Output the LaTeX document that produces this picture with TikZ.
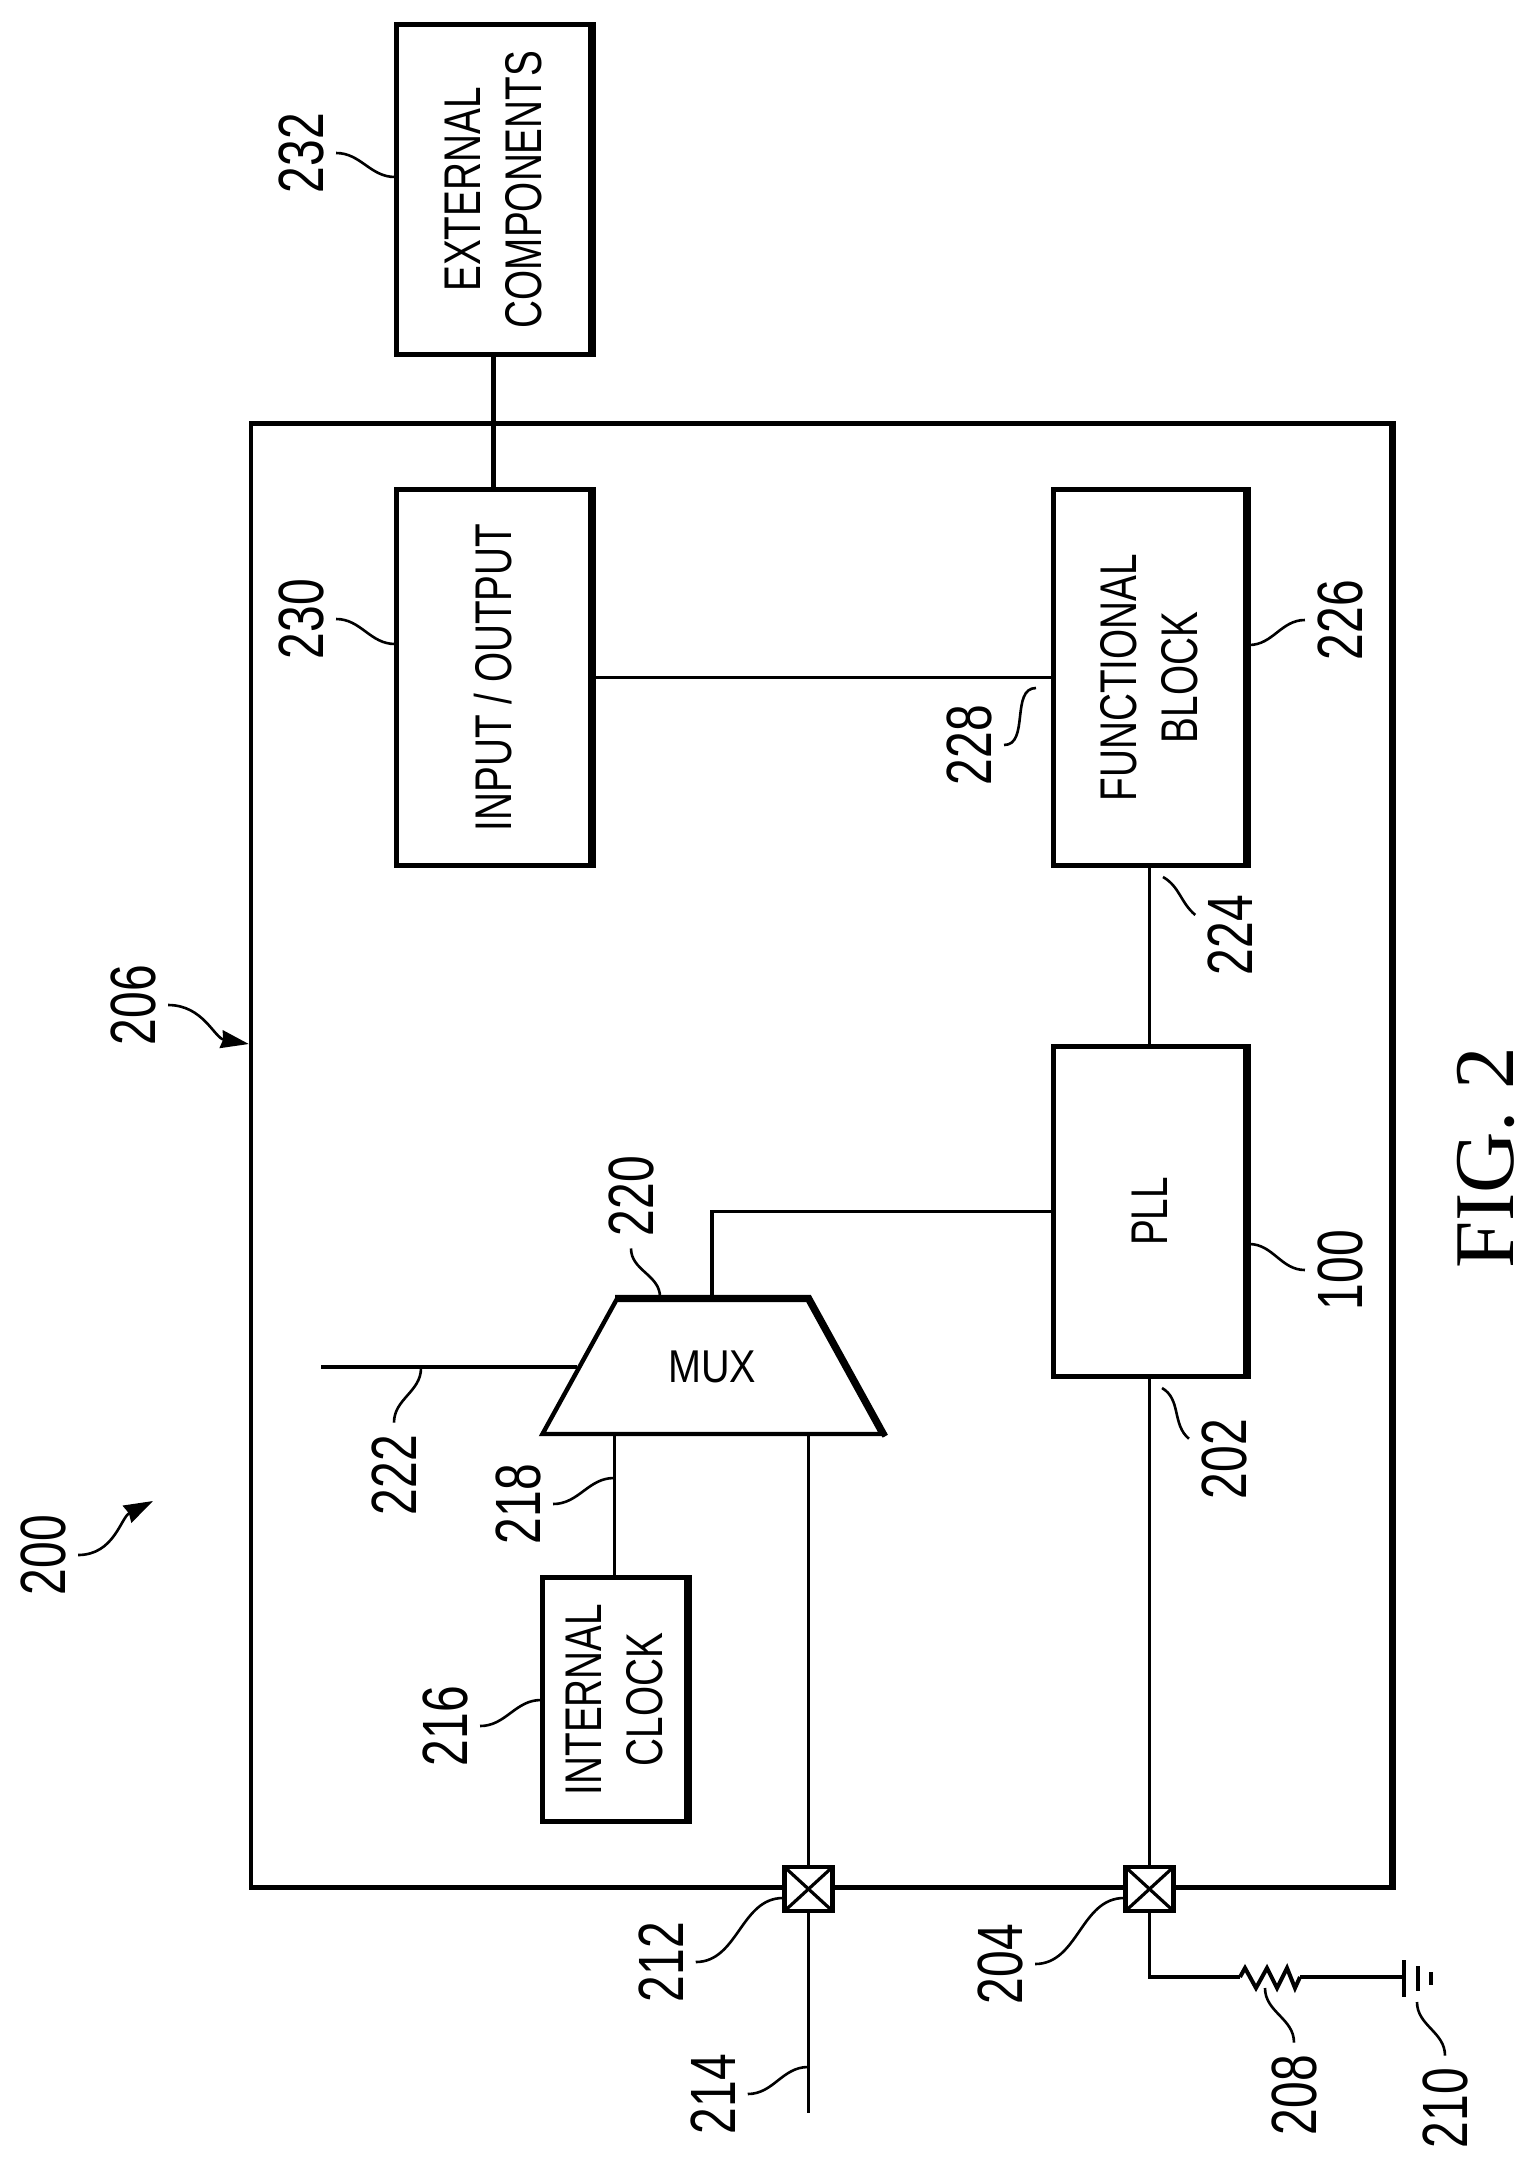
\documentclass[tikz,border=0pt]{standalone}
\usepackage{fontspec}
\usepackage{tikz}
\usetikzlibrary{arrows.meta,shapes.geometric}
\newfontfamily\blockfamily[FakeStretch=0.75]{Liberation Sans}
\newfontfamily\muxfamily[FakeStretch=0.86]{Liberation Sans}
\newfontfamily\figfamily{Liberation Serif}
\tikzset{
  block/.style={draw,line width=2.2pt,rotate=90,align=center,inner sep=0pt,
    font=\blockfamily\fontsize{25.8pt}{30.5pt}\selectfont},
  wire/.style={line width=1.7pt},
  leader/.style={line width=1.3pt},
  reflabel/.style={rotate=90,inner sep=6pt,font=\blockfamily\fontsize{32pt}{32pt}\selectfont},
  pad/.style={draw,fill=white,line width=2.2pt,inner sep=0pt,minimum width=24pt,minimum height=22pt,
    path picture={
      \draw[line width=1.6pt] (path picture bounding box.north west) -- (path picture bounding box.south east);
      \draw[line width=1.6pt] (path picture bounding box.south west) -- (path picture bounding box.north east);
    }}
}
\begin{document}
\begin{tikzpicture}[x=0.5pt,y=-0.5pt]

  \useasboundingbox (0,0) rectangle (1534,2169);

  \node[draw,line width=2.2pt,minimum width=570pt,minimum height=732pt,inner sep=0pt] (chip) at (821,1155.5) {};

  \node[block,minimum width=165pt,minimum height=97pt] (ext) at (493.5,189.5) {EXTERNAL\\COMPONENTS};
  \node[block,minimum width=188pt,minimum height=97pt] (io) at (493.5,677.5) {INPUT / OUTPUT};
  \node[block,minimum width=188pt,minimum height=96pt] (func) at (1149.5,677.5) {FUNCTIONAL\\BLOCK};
  \node[block,minimum width=165pt,minimum height=96pt] (pll) at (1149.5,1211.5) {PLL};
  \node[block,minimum width=122pt,minimum height=72pt] (clock) at (614.5,1699.5) {INTERNAL\\CLOCK};

  \node[trapezium,trapezium stretches=true,trapezium left angle=43.4,trapezium right angle=43.4,
    draw,line width=2.2pt,inner sep=0pt,minimum width=170pt,minimum height=67pt,
    font=\muxfamily\fontsize{23pt}{23pt}\selectfont] (mux) at (712,1367) {MUX};

  % outer sides came out heavier
  \foreach \b in {ext,io,func,pll,clock}
    {
      \draw[line width=3.2pt] (\b.south west) -- (\b.south east);
    }
  \draw[line width=3pt] (chip.north east) -- (chip.south east);
  \draw[line width=3pt] (mux.top left corner) -- (mux.top right corner) -- (mux.bottom right corner);

  \node[pad] (pad212) at (808.5,1889) {};
  \node[pad] (pad204) at (1149.5,1889) {};

  \coordinate (in222) at (321,1367);
  \coordinate (end214) at (808.5,2113);
  \coordinate (res1) at (1240,1977);
  \coordinate (res2) at (1300,1977);
  \coordinate (bat) at (1404,1977);

  \draw[line width=2.2pt] (ext.west) -- (io.east);
  \draw[wire] (io.south) -- (func.north);
  \draw[wire] (pll.east) -- (func.west);
  \draw[wire] (pll.north) -| (mux.top side);
  \draw[wire] (in222) -- (mux.left side);
  \draw[wire] (clock.east) -- (clock.east |- mux.bottom side);
  \draw[wire] (pad212.north) -- (pad212.north |- mux.bottom side);
  \draw[wire] (pad212.south) -- (end214);
  \draw[wire] (pll.west) -- (pad204.north);
  \draw[wire] (pad204.south) |- (res1);
  \draw[line width=2pt] (res1) -- (1245,1968) -- (1256,1988) -- (1267,1968) -- (1277,1988) -- (1287,1968) -- (1295,1988) -- (res2);
  \draw[wire] (res2) -- (bat);

  \draw[line width=2.2pt] (1404,1960) -- (1404,1997);
  \draw[line width=2pt] (1417.5,1966) -- (1417.5,1991);
  \draw[line width=2.2pt] (1431,1972) -- (1431,1985);

  \foreach \t/\lx/\ly/\side/\ex/\ey/\o/\i in {
      232/301/153/south/395/177/0/180,
      230/301/619/south/395/644/0/180,
      226/1340/620/north/1249/645/180/0,
      100/1340/1270/north/1249/1244/180/0,
      228/969/745/south/1036/688/0/180,
      224/1230/935/60/1163/877/140/-30,
      220/631/1196/west/660/1297/270/90,
      222/394/1475/east/421/1368/90/270,
      218/518/1504/south/614/1478/0/180,
      216/445/1726/south/541/1700/0/180,
      212/661/1962/south/783/1898/0/180,
      204/1000/1964/south/1124/1898/0/180,
      214/713/2094/south/808/2067/0/180,
      202/1224/1459/60/1162/1388/140/-30,
      208/1294/2095/east/1265/1988/90/270,
      210/1445/2108/east/1417/2002/90/270}
    {
      \node[reflabel] (l\t) at (\lx,\ly) {\t};
      \coordinate (e\t) at (\ex,\ey);
      \draw[leader] (l\t.\side) to[out=\o,in=\i] (e\t);
    }

  \node[reflabel] (l200) at (43,1555) {200};
  \coordinate (e200) at (153,1501);
  \draw[leader,-{Stealth[length=14.5pt,width=9.5pt,inset=1pt]}] (l200.south) to[out=0,in=207] (e200);

  \node[reflabel] (l206) at (133,1005) {206};
  \draw[leader,-{Stealth[length=14pt,width=9pt,inset=1pt]}] (l206.south) to[out=0,in=170] (chip.west |- 0,1044);

  \node[rotate=90,inner sep=0pt,font=\figfamily\fontsize{42.5pt}{42.5pt}\selectfont] (figlabel) at (1486,1158) {FIG. 2};

\end{tikzpicture}
\end{document}
